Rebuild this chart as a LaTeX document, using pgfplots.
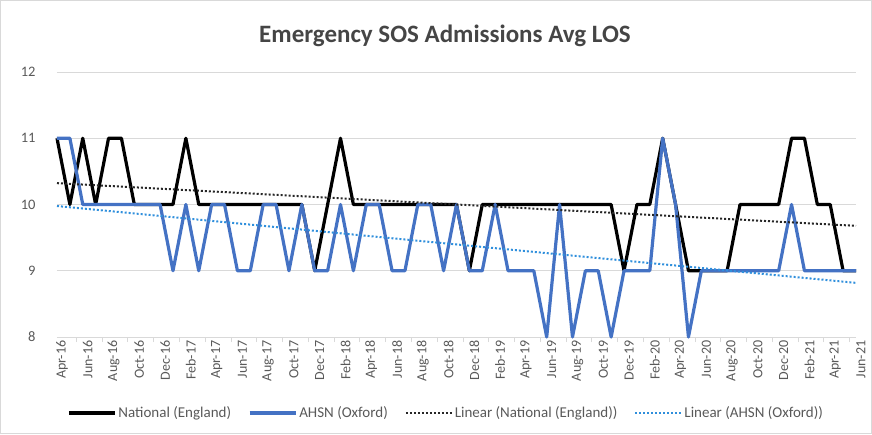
\documentclass[border=0pt]{standalone}
\usepackage{pgfplots}
\pgfplotsset{compat=1.18}
\usepackage{pgfplotstable}
\usepackage{fontspec}
\setmainfont{Carlito}
\definecolor{txt}{HTML}{595959}
\definecolor{ttl}{HTML}{454545}
\definecolor{grd}{HTML}{D9D9D9}
\definecolor{ahsn}{HTML}{4472C4}
\definecolor{trendb}{HTML}{2F8FDC}

\pgfplotstableread{
i nat ahsn
0 11 11
1 10 11
2 11 10
3 10 10
4 11 10
5 11 10
6 10 10
7 10 10
8 10 10
9 10 9
10 11 10
11 10 9
12 10 10
13 10 10
14 10 9
15 10 9
16 10 10
17 10 10
18 10 9
19 10 10
20 9 9
21 10 9
22 11 10
23 10 9
24 10 10
25 10 10
26 10 9
27 10 9
28 10 10
29 10 10
30 10 9
31 10 10
32 9 9
33 10 9
34 10 10
35 10 9
36 10 9
37 10 9
38 10 8
39 10 10
40 10 8
41 10 9
42 10 9
43 10 8
44 9 9
45 10 9
46 10 9
47 11 11
48 10 10
49 9 8
50 9 9
51 9 9
52 9 9
53 10 9
54 10 9
55 10 9
56 10 9
57 11 10
58 11 9
59 10 9
60 10 9
61 9 9
62 9 9
}\data

\pgfplotstableread{
i nat ahsn
0 10.322 9.977
62 9.678 8.817
}\trend

\begin{document}
\begin{tikzpicture}
\useasboundingbox (-57pt,-97pt) rectangle (815pt,337pt);
\begin{axis}[name=ax, at={(0,0)}, anchor=south west,
  scale only axis, width=799pt, height=265pt,
  xmin=0, xmax=62, ymin=8, ymax=12,
  ytick={8,9,10,11,12},
  ymajorgrids, grid style={grd, line width=0.8pt},
  xtick={0,2,...,62},
  xticklabels={Apr-16,Jun-16,Aug-16,Oct-16,Dec-16,Feb-17,Apr-17,Jun-17,Aug-17,Oct-17,Dec-17,Feb-18,Apr-18,Jun-18,Aug-18,Oct-18,Dec-18,Feb-19,Apr-19,Jun-19,Aug-19,Oct-19,Dec-19,Feb-20,Apr-20,Jun-20,Aug-20,Oct-20,Dec-20,Feb-21,Apr-21,Jun-21},
  xticklabel style={rotate=90, anchor=east, font=\fontsize{14}{14}\selectfont, text=txt, yshift=-5pt},
  yticklabel style={font=\fontsize{14.5}{14.5}\selectfont, text=txt, xshift=-18pt},
  /pgf/number format/assume math mode=true,
  major tick length=0pt,
  extra x ticks={1.5,3.5,...,61.5}, extra x tick labels={},
  extra x tick style={major tick length=5pt, tick align=outside, tick style={grd, line width=0.8pt}, grid=none},
  axis x line*=bottom, axis y line*=left,
  y axis line style={draw=none},
  x axis line style={grd, line width=0.8pt, -},
  clip=false,
  title={Emergency SOS Admissions Avg LOS},
  title style={at={(0.4856,1.113)}, anchor=center, font=\bfseries\fontsize{25}{25}\selectfont, text=ttl},
  legend columns=4,
  legend style={at={(0.487,-0.287)}, anchor=center, draw=none, fill=none, font=\fontsize{15}{15}\selectfont, text=txt,
    /tikz/every even column/.append style={column sep=15pt}},
  legend image code/.code={\draw[#1] (0pt,0pt) -- (46pt,0pt);},
]
\addplot[black, line width=3.2pt, line join=round] table[x=i, y=nat] {\data};
\addlegendentry{National (England)}
\addplot[ahsn, line width=3.2pt, line join=round] table[x=i, y=ahsn] {\data};
\addlegendentry{AHSN (Oxford)}
\addplot[black!85, line width=2pt, dash pattern=on 2pt off 2pt] table[x=i, y=nat] {\trend};
\addlegendentry{Linear (National (England))}
\addplot[trendb, line width=2pt, dash pattern=on 2pt off 2pt] table[x=i, y=ahsn] {\trend};
\addlegendentry{Linear (AHSN (Oxford))}
\end{axis}
\draw[grd, line width=0.8pt] (-56.6pt,-96.6pt) rectangle (814.6pt,336.6pt);
\end{tikzpicture}
\end{document}
